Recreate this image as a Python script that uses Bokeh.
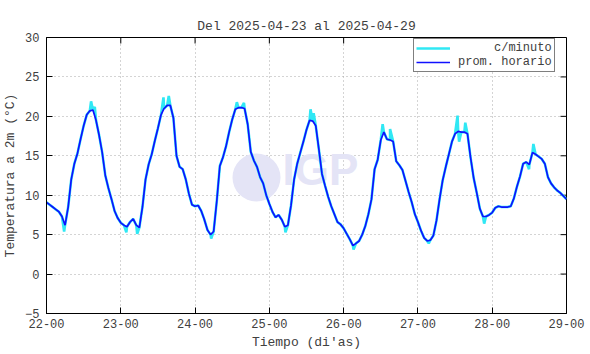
from bokeh.plotting import figure
from bokeh.models import (FixedTicker, Legend, LegendItem, Label,
                          BoxAnnotation, ColumnDataSource, Range1d)
from bokeh.embed import file_html
from bokeh.resources import INLINE

# ---------------- data ----------------
dias = [22, 23, 24, 25, 26, 27, 28]
tick_dias = [22, 23, 24, 25, 26, 27, 28, 29]
tick_labels = ["22-00", "23-00", "24-00", "25-00", "26-00", "27-00", "28-00", "29-00"]
y_ticks = [-5, 0, 5, 10, 15, 20, 25, 30]

# hourly averages (h = 0..23) for each day
horario_22 = [9.1, 8.8, 8.5, 8.2, 7.9, 7.3, 6.2, 8.5, 12.0, 14.0, 15.3, 17.1,
              18.8, 20.2, 20.7, 20.8, 19.5, 17.6, 15.4, 12.5, 10.9, 9.5, 8.0, 7.1]
horario_23 = [6.5, 6.2, 6.0, 6.6, 7.0, 6.2, 5.9, 8.5, 12.0, 13.9, 15.2, 16.9,
              18.5, 20.2, 21.0, 21.4, 21.4, 19.8, 15.0, 13.6, 13.3, 12.0, 10.2, 8.8]
horario_24 = [8.6, 8.7, 8.0, 6.9, 5.6, 5.0, 5.4, 9.2, 13.7, 14.8, 16.2, 18.0,
              19.6, 20.9, 21.1, 21.1, 21.0, 19.0, 15.5, 14.4, 13.6, 12.3, 11.5, 10.0]
horario_25 = [8.9, 7.9, 7.2, 7.5, 6.9, 6.0, 6.2, 8.7, 12.0, 14.0, 15.4, 16.8,
              18.3, 19.5, 19.4, 18.8, 15.8, 12.7, 11.2, 9.8, 8.6, 7.6, 6.6, 6.3]
horario_26 = [5.8, 5.1, 4.4, 3.6, 3.9, 4.2, 5.0, 6.1, 7.6, 9.5, 13.3, 14.5,
              17.0, 18.0, 17.1, 17.0, 16.8, 14.3, 13.8, 13.2, 11.8, 10.4, 9.1, 7.6]
horario_27 = [6.6, 5.5, 4.6, 4.2, 4.3, 4.9, 6.8, 9.5, 11.9, 13.6, 15.2, 16.8,
              17.8, 18.1, 18.0, 18.0, 17.8, 14.8, 12.2, 10.3, 8.3, 7.3, 7.3, 7.5]
horario_28 = [7.8, 8.4, 8.6, 8.5, 8.5, 8.5, 8.6, 9.6, 11.1, 12.4, 14.0, 14.2,
              13.9, 15.4, 15.2, 14.9, 14.6, 14.0, 12.3, 11.5, 11.0, 10.6, 10.3, 9.9]
valor_29_00 = 9.5

# visible excursions of the per-minute series (day, hour, value)
picos_dia = [22, 22, 22, 23, 23, 23, 23, 24, 24, 24, 25, 25, 25,
             26, 26, 26, 27, 27, 27, 27, 27, 28, 28]
picos_hora = [5.7, 14.4, 15.6, 1.8, 5.3, 13.8, 15.5, 5.2, 13.5, 15.8, 5.2, 13.3, 14.3,
              3.2, 12.6, 15.0, 3.5, 12.8, 13.3, 15.3, 21.4, 11.9, 13.3]
picos_valor = [5.4, 21.9, 21.2, 5.3, 5.1, 22.4, 22.6, 4.5, 21.8, 21.7, 5.3, 20.9, 20.4,
               3.1, 19.0, 18.4, 3.9, 20.1, 16.8, 19.2, 6.4, 13.3, 16.5]

# ---------------- build series ----------------
por_dia = [horario_22, horario_23, horario_24, horario_25, horario_26, horario_27, horario_28]
t_h, v_h = [], []
for d, vals in zip(dias, por_dia):
    for h, v in enumerate(vals):
        t_h.append(d + h / 24.0)
        v_h.append(v)
t_h.append(29.0)
v_h.append(valor_29_00)

pts = list(zip(t_h, v_h)) + [(d + h / 24.0, v) for d, h, v in zip(picos_dia, picos_hora, picos_valor)]
pts.sort()
t_m = [q[0] for q in pts]
v_m = [q[1] for q in pts]

MONO = "Liberation Mono"
TXT = "#404040"

W, H = 590, 354
BL, BR, BT, BB = 46, 24, 37, 41
X0, X1 = 22, 29
Y0, Y1 = -5, 30

p = figure(width=W, height=H, output_backend="svg", toolbar_location=None,
           x_range=Range1d(X0, X1), y_range=Range1d(Y0, Y1),
           min_border_left=BL, min_border_right=BR, min_border_top=BT, min_border_bottom=BB,
           x_axis_label="Tiempo (di'as)", y_axis_label="Temperatura a 2m (°C)")
p.background_fill_color = "white"
p.border_fill_color = "white"
p.outline_line_color = "black"
p.outline_line_width = 1
p.outline_line_alpha = 1

p.title.text = "Del 2025-04-23 al 2025-04-29"
p.title.align = "center"
p.title.text_font = MONO
p.title.text_font_size = "13px"
p.title.text_font_style = "normal"
p.title.text_color = TXT
p.title.standoff = 8

for ax in (p.xaxis[0], p.yaxis[0]):
    ax.major_label_text_font = MONO
    ax.major_label_text_font_size = "12px"
    ax.major_label_text_color = TXT
    ax.axis_label_text_font = MONO
    ax.axis_label_text_font_size = "13px"
    ax.axis_label_text_font_style = "normal"
    ax.axis_label_text_color = TXT
    ax.major_tick_in = 6
    ax.major_tick_out = 0
    ax.minor_tick_in = 0
    ax.minor_tick_out = 0
    ax.major_tick_line_color = "black"
    ax.axis_line_color = "black"

p.xaxis[0].major_label_standoff = 5
p.xaxis[0].axis_label_standoff = 4
p.yaxis[0].major_label_standoff = 7
p.yaxis[0].axis_label_standoff = 4

p.xaxis[0].ticker = FixedTicker(ticks=tick_dias)
p.xaxis[0].major_label_overrides = {d: s for d, s in zip(tick_dias, tick_labels)}
p.yaxis[0].ticker = FixedTicker(ticks=y_ticks)

p.xgrid.grid_line_color = "#a8a8a8"
p.ygrid.grid_line_color = "#a8a8a8"
p.xgrid.grid_line_dash = "1 3"
p.ygrid.grid_line_dash = "1 3"

# mirrored inward ticks on top and right border (6 px long)
fw = W - BL - BR
fh = H - BT - BB
ty = 6 * (Y1 - Y0) / fh
tx = 6 * (X1 - X0) / fw
p.segment(x0=tick_dias, x1=tick_dias, y0=[Y1] * len(tick_dias), y1=[Y1 - ty] * len(tick_dias),
          line_color="black", line_width=1)
p.segment(x0=[X1] * len(y_ticks), x1=[X1 - tx] * len(y_ticks), y0=y_ticks, y1=y_ticks,
          line_color="black", line_width=1)

# watermark logo
logo = BoxAnnotation(left=186, right=234, bottom=112, top=160,
                     left_units="screen", right_units="screen",
                     bottom_units="screen", top_units="screen",
                     fill_color="#e4e4f6", fill_alpha=1, line_color=None,
                     border_radius=24, level="underlay")
p.add_layout(logo)
logo_txt = Label(x=236, y=120, x_units="screen", y_units="screen", text="IGP",
                 text_font="Liberation Sans", text_font_style="bold",
                 text_font_size="44px", text_color="#e4e4f6", level="underlay")
p.add_layout(logo_txt)

src_m = ColumnDataSource(dict(t=t_m, v=v_m))
src_h = ColumnDataSource(dict(t=t_h, v=v_h))
r_m = p.line("t", "v", source=src_m, line_color="#30e8f4", line_width=2.6)
r_h = p.line("t", "v", source=src_h, line_color="#1010ff", line_width=1.7)

nb = "\u00a0"
legend = Legend(items=[LegendItem(label=nb * 5 + "c/minuto", renderers=[r_m]),
                       LegendItem(label="prom. horario", renderers=[r_h])],
                location=(367, 241), orientation="vertical",
                label_text_font=MONO, label_text_font_size="12px", label_text_color=TXT,
                label_height=12, glyph_height=12, glyph_width=34, label_standoff=8,
                spacing=0, padding=2, margin=0,
                border_line_color="black", border_line_width=1,
                background_fill_color="white", background_fill_alpha=1)
p.add_layout(legend)

open("out.html", "w").write(file_html(p, INLINE))
